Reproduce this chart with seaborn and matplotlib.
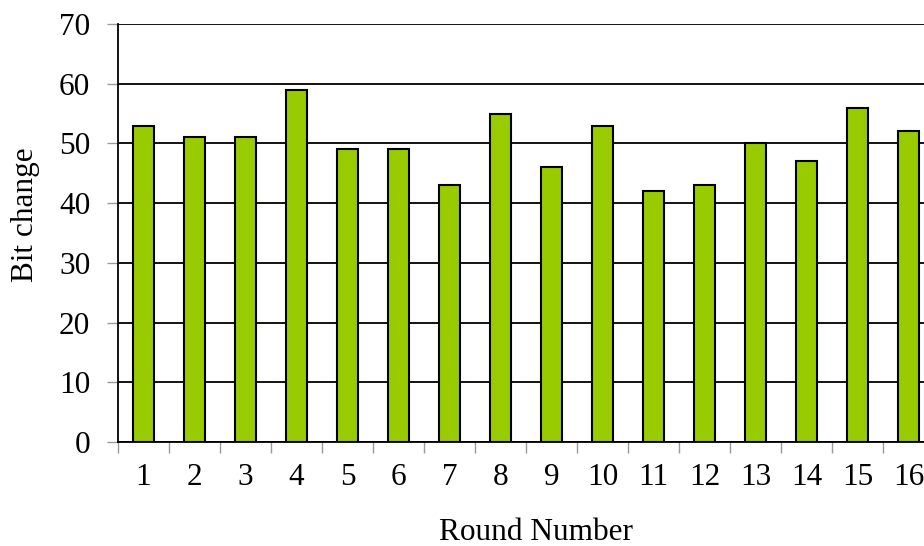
import matplotlib
matplotlib.use("Agg")
import matplotlib.pyplot as plt
from matplotlib.ticker import FixedLocator, NullFormatter
import seaborn as sns
import pandas as pd

rounds = [str(i) for i in range(1, 17)]
bit_change = [53, 51, 51, 59, 49, 49, 43, 55, 46, 53, 42, 43, 50, 47, 56, 52]
y_ticks = [0, 10, 20, 30, 40, 50, 60, 70]

sns.set_style("white")
plt.rcParams["font.family"] = ["Liberation Serif", "DejaVu Serif"]
plt.rcParams["text.color"] = "black"
plt.rcParams["axes.labelcolor"] = "black"
plt.rcParams["xtick.labelcolor"] = "black"
plt.rcParams["ytick.labelcolor"] = "black"

df = pd.DataFrame({"Round": rounds, "Bits": bit_change})

W, H = 924, 546
FS = 22.5
fig = plt.figure(figsize=(W / 100, H / 100), dpi=100)
# plot area runs past the right edge of the canvas
ax = fig.add_axes([118 / W, 104 / H, 816 / W, 418 / H])

sns.barplot(data=df, x="Round", y="Bits", color="#99CC00", width=0.41,
            edgecolor="black", linewidth=1.5, saturation=1, ax=ax, zorder=3)

ax.set_xlim(-0.5, len(rounds) - 0.5)
ax.set_ylim(0, 70)
ax.set_yticks(y_ticks)
ax.yaxis.grid(True, color="black", linewidth=1.3, zorder=0)
ax.set_axisbelow(True)

for side in ["left", "bottom"]:
    ax.spines[side].set_color("black")
    ax.spines[side].set_linewidth(1.3)
for side in ["top", "right"]:
    ax.spines[side].set_visible(False)

ax.tick_params(axis="y", which="major", length=8, width=1, color="#999999",
               labelsize=FS, pad=12, left=True)
ax.tick_params(axis="x", which="major", length=0, labelsize=FS, pad=15)
ax.xaxis.set_minor_locator(FixedLocator([i - 0.5 for i in range(len(rounds) + 1)]))
ax.xaxis.set_minor_formatter(NullFormatter())
ax.tick_params(axis="x", which="minor", length=8, width=1, color="#999999",
               bottom=True)

ax.set_xlabel("Round Number", fontsize=FS, va="center")
ax.set_ylabel("Bit change", fontsize=FS, va="center")
ax.xaxis.set_label_coords((536 - 118) / 816, -(533 - 442) / 418)
ax.yaxis.set_label_coords(-(118 - 25) / 816, (442 - 215) / 418)

fig.savefig("out.png", dpi=100)
